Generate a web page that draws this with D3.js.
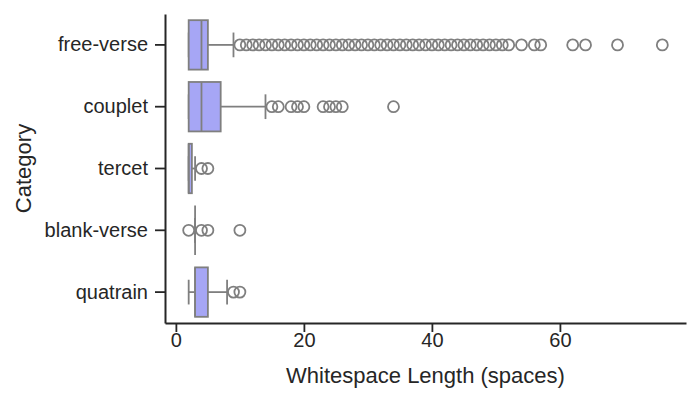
<!DOCTYPE html>
<html>
<head>
<meta charset="utf-8">
<script src="https://cdn.jsdelivr.net/npm/d3@7"></script>
<style>
	body { margin: 0; background: #fff; }
	text { font-family: 'Liberation Sans', Arial, sans-serif; fill: #262626; }
</style>
</head>
<body>
<div id="chart"></div>
<script>
// box summaries
const categories = ['free-verse', 'couplet', 'tercet', 'blank-verse', 'quatrain'];
const q1 = [2, 2, 2, 3, 3];
const medians = [4, 4, 2, 3, 3];
const q3 = [5, 7, 2.5, 3, 5];
const whiskerLow = [2, 2, 2, 3, 2];
const whiskerHigh = [9, 14, 3, 3, 8];
const outliers = [
	[10, 11, 12, 13, 14, 15, 16, 17, 18, 19, 20, 21, 22, 23, 24, 25, 26, 27, 28, 29, 30,
	 31, 32, 33, 34, 35, 36, 37, 38, 39, 40, 41, 42, 43, 44, 45, 46, 47, 48, 49, 50, 51, 52,
	 54, 56, 57, 62, 64, 69, 76],
	[15, 16, 18, 19, 20, 23, 24, 25, 26, 34],
	[4, 5],
	[2, 4, 5, 10],
	[9, 10]
];
const xTicks = [0, 20, 40, 60];

const fillColor = '#a6a6f5';
const lineColor = '#7f7f7f';
const inkColor = '#262626';

const margin = { top: 14, right: 12, bottom: 78, left: 165 },
	width = 698 - margin.left - margin.right,
	height = 401 - margin.top - margin.bottom;

const svg = d3
	.select('#chart')
	.append('svg')
	.attr('width', 698)
	.attr('height', 401)
	.append('g')
	.attr('transform', `translate(${margin.left},${margin.top})`);

const boxes = categories.map((c, i) => ({
	cat: c,
	q1: q1[i],
	med: medians[i],
	q3: q3[i],
	lo: whiskerLow[i],
	hi: whiskerHigh[i],
	out: outliers[i]
}));

// x range with matplotlib-like 5% margins
const allVals = boxes.flatMap((b) => [b.lo, b.hi, ...b.out]);
const [vMin, vMax] = d3.extent(allVals);
const pad = (vMax - vMin) * 0.05;
const x = d3.scaleLinear().domain([vMin - pad, vMax + pad]).range([0, width]);

const y = d3.scaleBand().domain(categories).range([0, height]).padding(0);
const boxH = y.bandwidth() * 0.8;
const capH = boxH * 0.5;

// axes
const xAxis = svg.append('g')
	.attr('transform', `translate(0,${height})`)
	.call(d3.axisBottom(x).tickValues(xTicks).tickSize(9).tickPadding(1).tickSizeOuter(0));
const yAxis = svg.append('g')
	.call(d3.axisLeft(y).tickSize(10).tickPadding(7).tickSizeOuter(0));

[xAxis, yAxis].forEach((ax) => {
	ax.select('.domain').attr('stroke', inkColor).attr('stroke-width', 2);
	ax.selectAll('.tick line').attr('stroke', inkColor).attr('stroke-width', 1.8);
	ax.selectAll('.tick text')
		.attr('font-size', 20)
		.attr('fill', inkColor)
		.style('font-family', "'Liberation Sans', Arial, sans-serif");
});

// axis titles
svg.append('text')
	.attr('x', width / 2)
	.attr('y', height + 60)
	.attr('text-anchor', 'middle')
	.attr('font-size', 22)
	.text('Whitespace Length (spaces)');

svg.append('text')
	.attr('transform', `translate(${31 - margin.left},${height / 2}) rotate(-90)`)
	.attr('text-anchor', 'middle')
	.attr('font-size', 22)
	.text('Category');

// boxes
const g = svg.selectAll('.box')
	.data(boxes)
	.enter()
	.append('g')
	.attr('class', 'box')
	.attr('transform', (d) => `translate(0,${y(d.cat) + y.bandwidth() / 2})`);

// whiskers
g.append('line')
	.attr('x1', (d) => x(d.lo)).attr('x2', (d) => x(d.q1))
	.attr('stroke', lineColor).attr('stroke-width', 1.8);
g.append('line')
	.attr('x1', (d) => x(d.q3)).attr('x2', (d) => x(d.hi))
	.attr('stroke', lineColor).attr('stroke-width', 1.8);

// caps
g.append('line')
	.attr('x1', (d) => x(d.lo)).attr('x2', (d) => x(d.lo))
	.attr('y1', -capH / 2).attr('y2', capH / 2)
	.attr('stroke', lineColor).attr('stroke-width', 1.8);
g.append('line')
	.attr('x1', (d) => x(d.hi)).attr('x2', (d) => x(d.hi))
	.attr('y1', -capH / 2).attr('y2', capH / 2)
	.attr('stroke', lineColor).attr('stroke-width', 1.8);

g.append('rect')
	.attr('x', (d) => x(d.q1))
	.attr('width', (d) => x(d.q3) - x(d.q1))
	.attr('y', -boxH / 2)
	.attr('height', boxH)
	.attr('fill', fillColor)
	.attr('stroke', lineColor)
	.attr('stroke-width', 1.8);

// median
g.append('line')
	.attr('x1', (d) => x(d.med)).attr('x2', (d) => x(d.med))
	.attr('y1', -boxH / 2).attr('y2', boxH / 2)
	.attr('stroke', lineColor).attr('stroke-width', 1.8);

// fliers
g.selectAll('circle')
	.data((d) => d.out)
	.enter()
	.append('circle')
	.attr('cx', (v) => x(v))
	.attr('cy', 0)
	.attr('r', 5.5)
	.attr('fill', 'none')
	.attr('stroke', lineColor)
	.attr('stroke-width', 1.8);
</script>
</body>
</html>
